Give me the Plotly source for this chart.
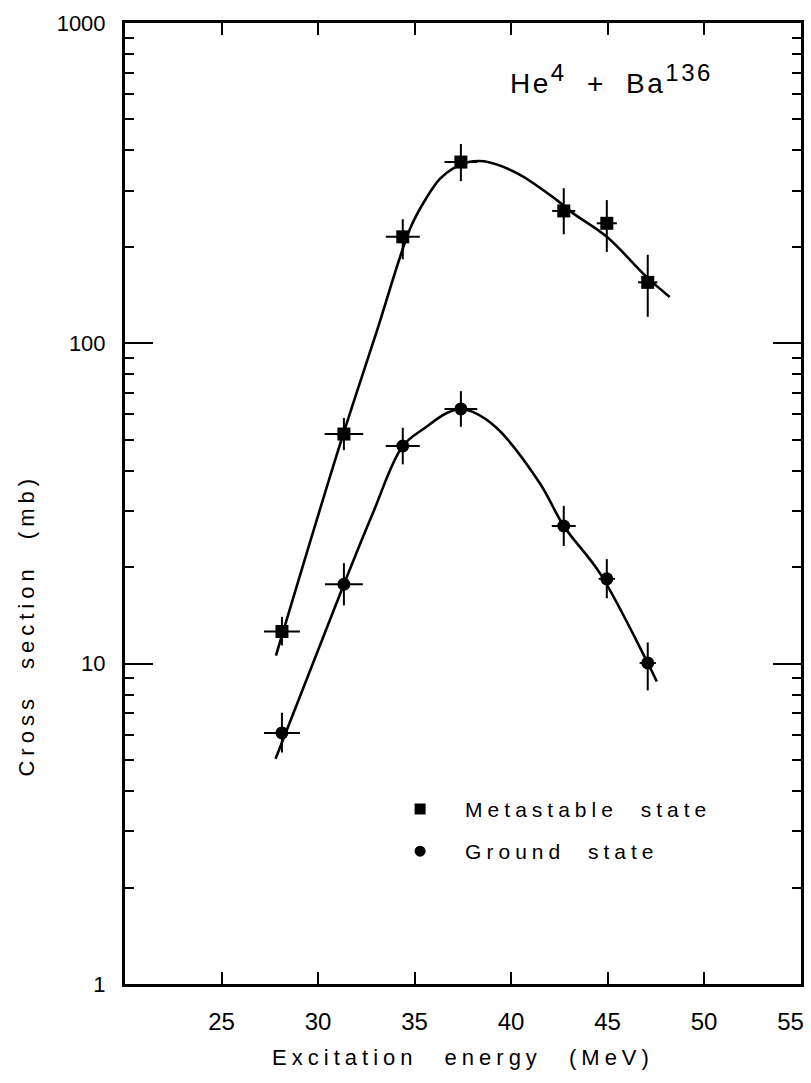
import plotly.graph_objects as go

# Measured cross sections, He4 + Ba136
energy = [28.13, 31.34, 34.39, 37.40, 42.73, 44.96, 47.08]
energy_err_meta = [0.93, 1.0, 0.88, 0.85, 0.6, 0.52, 0.5]
energy_err_ground = [0.93, 0.98, 0.88, 0.85, 0.62, 0.42, 0.42]

sigma_meta = [12.6, 52.1, 215, 368, 259, 237, 155]
meta_err_plus = [1.4, 6.4, 29, 51, 46, 43, 34]
meta_err_minus = [1.2, 5.7, 32, 47, 40, 44, 34]

sigma_ground = [6.08, 17.7, 47.8, 62.4, 26.9, 18.4, 10.05]
ground_err_plus = [0.95, 2.9, 6.7, 8.5, 4.2, 2.8, 1.6]
ground_err_minus = [0.8, 2.5, 5.9, 7.5, 3.6, 2.4, 1.8]

# Hand-drawn smooth curves through the data
meta_curve_e = [27.82, 31.13, 33.0, 34.81, 35.64, 36.31, 37.0, 37.8, 38.6, 40.30, 42.37, 43.20, 44.96, 47.03, 48.22]
meta_curve_s = [10.6, 48.2, 107, 231, 286, 326, 352, 368, 370, 340, 280, 255, 215, 161, 139.6]
ground_curve_e = [27.8, 31.34, 32.84, 34.39, 35.53, 36.67, 37.40, 38.02, 39.26, 41.49, 42.73, 44.59, 47.08, 47.55]
ground_curve_s = [5.05, 17.7, 29.5, 47.8, 54.4, 60.6, 62.4, 61.1, 54.4, 36.6, 26.9, 19.2, 10.05, 8.8]

x_ticks = [25, 30, 35, 40, 45, 50, 55]
y_ticks = [1, 10, 100, 1000]
y_minor = [m * d for d in (1, 10, 100) for m in range(2, 10)]

FONT = "Liberation Sans"
INK = "black"


def spaced(text, ls=4, ws=8):
    return f'<span style="letter-spacing:{ls}px;word-spacing:{ws}px">{text}</span>'


# the last x label sits at the right frame edge, so pad it to keep it on the page
x_ticktext = [str(v) for v in x_ticks[:-1]] + [str(x_ticks[-1]) + "&nbsp;" * 3]

fig = go.Figure()

curve_line = dict(color=INK, width=2.6, shape="spline", smoothing=1.0)
fig.add_trace(go.Scatter(x=meta_curve_e, y=meta_curve_s, mode="lines", line=curve_line,
                         showlegend=False, hoverinfo="skip"))
fig.add_trace(go.Scatter(x=ground_curve_e, y=ground_curve_s, mode="lines", line=curve_line,
                         showlegend=False, hoverinfo="skip"))

fig.add_trace(go.Scatter(
    x=energy, y=sigma_meta, mode="markers",
    marker=dict(symbol="square", size=13, color=INK),
    error_y=dict(type="data", array=meta_err_plus, arrayminus=meta_err_minus, color=INK, thickness=2, width=0),
    error_x=dict(type="data", array=energy_err_meta, color=INK, thickness=2, width=0),
    showlegend=False))
fig.add_trace(go.Scatter(
    x=energy, y=sigma_ground, mode="markers",
    marker=dict(symbol="circle", size=13, color=INK),
    error_y=dict(type="data", array=ground_err_plus, arrayminus=ground_err_minus, color=INK, thickness=2, width=0),
    error_x=dict(type="data", array=energy_err_ground, color=INK, thickness=2, width=0),
    showlegend=False))

# Legend entries
fig.add_trace(go.Scatter(x=[None], y=[None], mode="markers", name=spaced("Metastable state", 5, 12),
                         legendgroup="meta", marker=dict(symbol="square", size=11, color=INK)))
fig.add_trace(go.Scatter(x=[None], y=[None], mode="markers", name=spaced("Ground state", 5, 12),
                         legendgroup="ground", marker=dict(symbol="circle", size=11, color=INK)))

sup = '<sup><span style="font-size:24px">{}</span></sup>'
fig.add_annotation(
    x=0.566, y=0.942, xref="paper", yref="paper", xanchor="left", yanchor="middle",
    text=spaced("He" + sup.format("4") + " + Ba" + sup.format("136"), 2.5, 10), showarrow=False,
    font=dict(family=FONT, size=28, color=INK))

fig.add_annotation(
    x=-0.145, y=0.374, xref="paper", yref="paper", xanchor="center", yanchor="middle",
    text=spaced("Cross section (mb)", 5, 14), textangle=-90, showarrow=False,
    font=dict(family=FONT, size=22, color=INK))

fig.update_layout(
    width=811, height=1083,
    margin=dict(l=125, r=10, t=23, b=99),
    paper_bgcolor="white", plot_bgcolor="white",
    font=dict(family=FONT, color=INK),
    legend=dict(x=0.37, y=0.160, xanchor="left", yanchor="middle", bgcolor="rgba(0,0,0,0)",
                font=dict(family=FONT, size=21, color=INK), itemwidth=80, tracegroupgap=12),
    xaxis=dict(
        range=[20, 55.02], tickmode="array", tickvals=x_ticks, ticktext=x_ticktext, automargin=False,
        ticks="inside", ticklen=12, tickwidth=2, tickcolor=INK,
        showline=True, linewidth=3, linecolor=INK, mirror="ticks",
        showgrid=False, zeroline=False, ticklabelstandoff=14, ticklabeloverflow="allow",
        tickfont=dict(family=FONT, size=24, color=INK),
        title=dict(text=spaced("Excitation energy (MeV)", 5, 16), standoff=16,
                   font=dict(family=FONT, size=22, color=INK)),
    ),
    yaxis=dict(
        type="log", range=[0, 3], tickmode="array", tickvals=y_ticks, automargin=False,
        ticks="inside", ticklen=28, tickwidth=2, tickcolor=INK,
        minor=dict(tickmode="array", tickvals=y_minor, ticks="inside", ticklen=9, tickwidth=2, tickcolor=INK),
        showline=True, linewidth=3, linecolor=INK, mirror="ticks",
        showgrid=False, zeroline=False, ticklabelstandoff=12,
        tickfont=dict(family=FONT, size=22, color=INK),
    ),
)

fig.write_html("out.html")
